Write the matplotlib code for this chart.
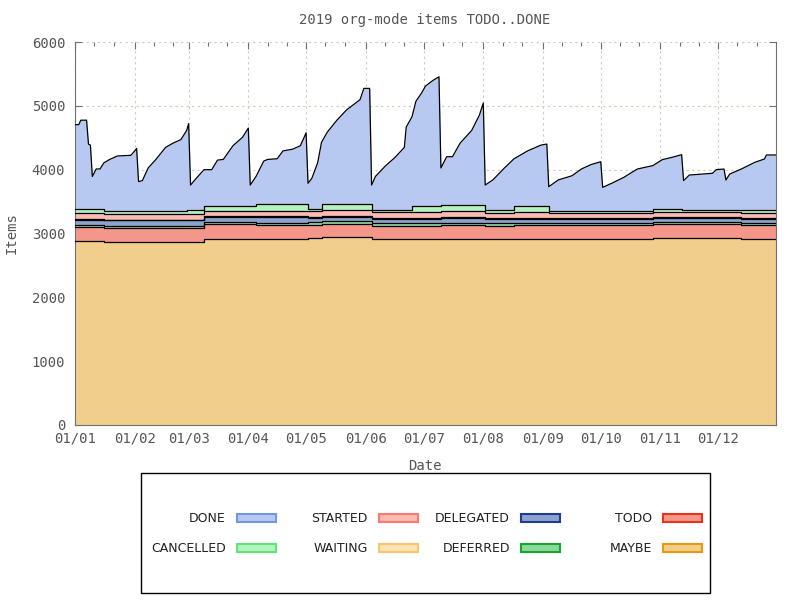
import pandas as pd
import matplotlib
matplotlib.use('Agg')
import matplotlib.pyplot as plt
import matplotlib.dates as mdates
from matplotlib.patches import Rectangle

# layers, stacked from the bottom up
layers = ['MAYBE', 'TODO', 'DEFERRED', 'DELEGATED', 'WAITING', 'STARTED', 'CANCELLED', 'DONE']
fills = ['#f1ce8c', '#f4978a', '#8ed89a', '#8da2cd', '#fde3b3', '#fbbbb2', '#b3f3c0', '#b7c9f0']
edges = ['#e8990f', '#e8321e', '#14a732', '#1c3d91', '#f7c76e', '#f57b70', '#5ee57a', '#7297e6']

# the lower layers are nearly flat, they change only on these dates
period_dates = ['2019-01-01', '2019-01-16', '2019-02-28', '2019-03-09', '2019-04-05', '2019-05-02',
                '2019-05-09', '2019-06-04', '2019-06-25', '2019-07-10', '2019-08-02', '2019-08-17',
                '2019-09-04', '2019-10-28', '2019-11-12', '2019-12-13']
maybe = [2883, 2870, 2870, 2914, 2914, 2925, 2940, 2914, 2914, 2920, 2914, 2914, 2914, 2925, 2925, 2914]
todo = [214, 214, 214, 228, 220, 209, 209, 205, 205, 210, 210, 212, 215, 219, 219, 219]
deferred = [40, 35, 35, 31, 31, 40, 42, 42, 40, 40, 38, 38, 37, 37, 37, 37]
delegated = [78, 85, 85, 89, 89, 70, 68, 68, 72, 68, 65, 65, 63, 63, 63, 63]
waiting = [15, 15, 15, 15, 15, 15, 15, 15, 15, 20, 15, 15, 15, 15, 15, 15]
started = [84, 84, 84, 83, 83, 89, 89, 85, 89, 89, 85, 85, 73, 73, 73, 73]
cancelled = [68, 45, 68, 78, 104, 37, 94, 42, 99, 94, 42, 104, 37, 47, 37, 40]

# DONE piles up during each month and gets archived
done_dates = ['2019-01-01', '2019-01-03', '2019-01-04', '2019-01-07', '2019-01-08', '2019-01-09',
              '2019-01-10', '2019-01-12', '2019-01-14', '2019-01-16', '2019-01-19', '2019-01-23',
              '2019-01-30', '2019-02-01', '2019-02-02', '2019-02-03', '2019-02-05', '2019-02-08',
              '2019-02-12', '2019-02-17', '2019-02-21', '2019-02-25', '2019-02-28', '2019-03-01',
              '2019-03-02', '2019-03-05', '2019-03-09', '2019-03-13', '2019-03-16', '2019-03-19',
              '2019-03-24', '2019-03-29', '2019-04-01', '2019-04-02', '2019-04-05', '2019-04-09',
              '2019-04-11', '2019-04-16', '2019-04-19', '2019-04-24', '2019-04-28', '2019-04-30',
              '2019-05-01', '2019-05-02', '2019-05-04', '2019-05-07', '2019-05-09', '2019-05-12',
              '2019-05-17', '2019-05-22', '2019-05-29', '2019-05-31', '2019-06-03', '2019-06-04',
              '2019-06-06', '2019-06-11', '2019-06-16', '2019-06-21', '2019-06-22', '2019-06-25',
              '2019-06-27', '2019-06-30', '2019-07-02', '2019-07-06', '2019-07-09', '2019-07-10',
              '2019-07-13', '2019-07-16', '2019-07-20', '2019-07-26', '2019-07-30', '2019-08-01',
              '2019-08-02', '2019-08-06', '2019-08-12', '2019-08-17', '2019-08-24', '2019-08-31',
              '2019-09-03', '2019-09-04', '2019-09-09', '2019-09-16', '2019-09-21', '2019-09-26',
              '2019-10-01', '2019-10-02', '2019-10-07', '2019-10-13', '2019-10-20', '2019-10-28',
              '2019-11-02', '2019-11-07', '2019-11-12', '2019-11-13', '2019-11-16', '2019-11-28',
              '2019-11-30', '2019-12-04', '2019-12-05', '2019-12-07', '2019-12-13', '2019-12-20',
              '2019-12-25', '2019-12-26', '2019-12-31']
done = [1324, 1324, 1393, 1393, 1019, 1003,
        511, 629, 629, 759, 812, 866,
        877, 946, 984, 465, 481, 679,
        812, 1000, 1069, 1123, 1244, 1351,
        388, 495, 562, 562, 712, 722,
        936, 1070, 1214, 321, 437, 678,
        704, 715, 838, 865, 918, 1052,
        1122, 401, 481, 722, 971, 1131,
        1318, 1479, 1639, 1816, 1816, 388,
        522, 682, 816, 977, 1297, 1395,
        1636, 1769, 1876, 1967, 2021, 586,
        762, 762, 976, 1174, 1415, 1602,
        390, 471, 658, 738, 861, 952,
        968, 379, 486, 550, 657, 726,
        771, 369, 437, 526, 656, 684,
        778, 814, 866, 459, 547, 574,
        631, 641, 469, 563, 649, 754,
        806, 869, 869]

grid = pd.to_datetime(done_dates)
pidx = pd.to_datetime(period_dates)
lower = [maybe, todo, deferred, delegated, waiting, started, cancelled]

fig = plt.figure(figsize=(8, 6), dpi=100)
ax = fig.add_axes([75/800, 175/600, 701/800, 383/600])

base = pd.Series(0.0, index=grid)
tops = []
for vals in lower:
    s = pd.Series(vals, index=pidx, dtype=float).reindex(grid, method='ffill')
    tops.append((base.copy(), base + s))
    base = base + s

# DONE on top, drawn first so the flat layers cover its lower edge
done_top = base + pd.Series(done, index=grid, dtype=float)
ax.fill_between(grid, 0, done_top, color=fills[7], lw=0, zorder=1)
ax.plot(grid, done_top, color='black', lw=0.9, zorder=3)

for i, (lo, hi) in enumerate(tops):
    ax.fill_between(grid, lo, hi, step='post', color=fills[i], lw=0, zorder=2)
    ax.step(grid, hi, where='post', color='black', lw=0.9, zorder=3)

ax.set_xlim(grid[0], grid[-1])
ax.set_ylim(0, 6000)
ax.set_yticks(range(0, 6001, 1000))
ax.xaxis.set_major_locator(mdates.MonthLocator())
ax.xaxis.set_minor_locator(mdates.DayLocator(bymonthday=[11, 21]))
ax.xaxis.set_major_formatter(mdates.DateFormatter('%d/%m'))

ax.set_axisbelow(True)
ax.grid(True, which='major', color='#c8d0b4', linestyle=(0, (2, 3)), linewidth=0.8)
ax.tick_params(which='both', direction='in', top=True, right=True, color='#707070',
               labelsize=10, labelcolor='#555555')
ax.tick_params(which='major', length=5, width=0.8)
ax.tick_params(which='minor', length=3, width=0.8)
ax.tick_params(axis='y', pad=7)
ax.tick_params(axis='x', pad=5)
for lab in ax.get_xticklabels() + ax.get_yticklabels():
    lab.set_family('DejaVu Sans Mono')
for side in ['left', 'bottom', 'right']:
    ax.spines[side].set_color('#707070')
ax.spines['top'].set_visible(False)

mono = dict(family='DejaVu Sans Mono', size=10, color='#555555', ha='center', va='center')
fig.text(425/800, 1 - 20/600, '2019 org-mode items TODO..DONE', **mono)
fig.text(12/800, 1 - 233/600, 'Items', rotation=90, **mono)
fig.text(425/800, 1 - 466/600, 'Date', **mono)

# legend box under the plot, two rows, four columns
fig.add_artist(Rectangle((141/800, 7/600), 569/800, 120/600, transform=fig.transFigure,
                         fill=False, edgecolor='black', lw=1))
order = list(range(len(layers)))[::-1]
for k, i in enumerate(order):
    col, row = k // 2, k % 2
    xr = 226 + 142 * col
    y = 518 + 30 * row
    fig.text(xr/800, 1 - y/600, layers[i], ha='right', va='center',
             family='DejaVu Sans', size=9, color='#202020')
    fig.add_artist(Rectangle(((xr + 11)/800, 1 - (y + 4)/600), 39/800, 8/600,
                             transform=fig.transFigure, facecolor=fills[i],
                             edgecolor=edges[i], lw=1.5))

fig.savefig('out.png', dpi=100)
